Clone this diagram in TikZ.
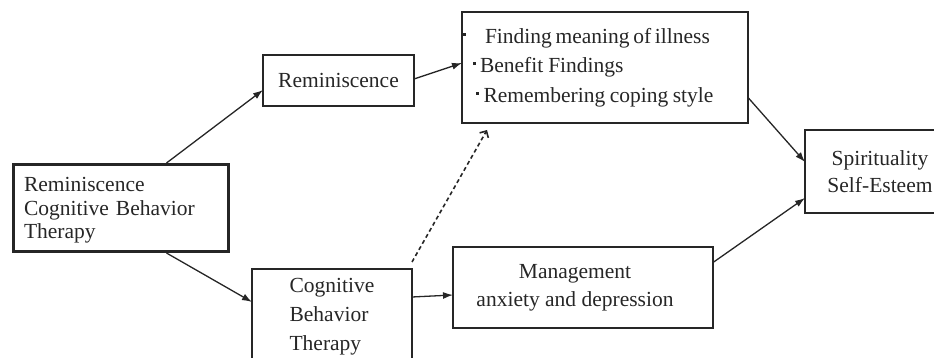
\documentclass[tikz,border=0pt]{standalone}
\usepackage{fontspec}
\setmainfont{Liberation Serif}
\usetikzlibrary{arrows.meta}
\definecolor{ink}{HTML}{262626}
\newcommand{\bdot}{\raisebox{7.5pt}{\rule{3pt}{3pt}}}
\newcommand{\tsa}{\hspace{3.7pt}}
\newcommand{\tsb}{\hspace{5pt}}
\newcommand{\tsc}{\hspace{4.5pt}}
\tikzset{
  box/.style={draw=ink, line width=1.3pt, outer sep=0pt, inner sep=0pt, text=ink, align=center},
  arr/.style={draw=ink, line width=1.3pt, -{Latex[length=10pt,width=7pt]}},
  darr/.style={draw=ink, line width=1.6pt, dash pattern=on 4pt off 3pt, -{Straight Barb[length=5pt,width=10pt]}},
}
\begin{document}
\begin{tikzpicture}[x=1pt,y=-1pt]
\useasboundingbox (0,0) rectangle (934,358);
% boxes
\node[box, line width=3pt, minimum width=215pt, minimum height=87pt] (lb) at (121,208) {};
\node[inner sep=0pt, text=ink, text width=194pt, align=left,
  font={\fontsize{21.5pt}{23.5pt}\selectfont}] (lbt) at ([yshift=-2.5pt]lb.center)
  {Reminiscence\\Cognitive Behavior\\Therapy};
\node[box, minimum width=151pt, minimum height=51pt, font={\fontsize{21.5pt}{26pt}\selectfont}] (rem) at (338.5,80.5) {Reminiscence};
\node[box, minimum width=286pt, minimum height=111pt, text width=284pt, inner xsep=1pt, align=left,
  font={\fontsize{21.5pt}{29.5pt}\selectfont}] (f) at (605,67.5)
  {\bdot\hspace{19pt}Finding\tsa meaning\tsa of\tsa illness\\
   \hspace*{10pt}\bdot\hspace{4pt}Benefit\tsb Findings\\
   \hspace*{13pt}\bdot\hspace{4.5pt}Remembering\tsc coping\tsc style};
\node[box, minimum width=160pt, minimum height=95pt, align=left, font={\fontsize{21.5pt}{29pt}\selectfont}] (cbt) at (332,316.5)
  {Cognitive\\Behavior\\Therapy};
\node[box, minimum width=260pt, minimum height=81pt, font={\fontsize{21.5pt}{28pt}\selectfont}] (mg) at (583,287.5)
  {Management\hspace*{16pt}\\anxiety and depression\hspace*{16pt}};
\node[box, minimum width=150pt, minimum height=83pt, font={\fontsize{21.5pt}{27pt}\selectfont}] (sp) at (880,171.5)
  {Spirituality\\Self-Esteem};
% connectors
\draw[arr] ([xshift=153pt,yshift=1.5pt]lb.north west) -- ([yshift=-9.5pt]rem.west);
\draw[arr] ([yshift=1.5pt]rem.east) -- ([yshift=4.5pt]f.west);
\draw[arr] ([xshift=153pt,yshift=-1.5pt]lb.south west) -- ([yshift=14.5pt]cbt.west);
\draw[arr] ([yshift=19.5pt]cbt.east) -- ([yshift=-7.5pt]mg.west);
\draw[darr] ([yshift=7pt]cbt.north east) -- ([xshift=25pt,yshift=-7pt]f.south west);
\draw[arr] ([yshift=-30pt]f.east) -- ([yshift=9.5pt]sp.west);
\draw[arr] ([yshift=25pt]mg.east) -- ([yshift=-26.5pt]sp.west);
\end{tikzpicture}
\end{document}
